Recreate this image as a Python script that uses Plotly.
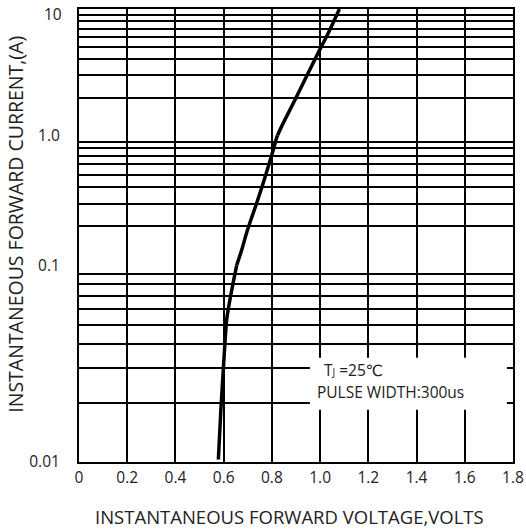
import math
import plotly.graph_objects as go
from plotly.subplots import make_subplots

# ---- data ----
voltage = [0.578, 0.589, 0.599, 0.607, 0.613, 0.633, 0.654, 0.675, 0.699,
           0.737, 0.764, 0.806, 0.823, 0.896, 0.947, 0.988, 1.034, 1.08]
current = [0.0103, 0.019, 0.0303, 0.0435, 0.0536, 0.0743, 0.1, 0.132, 0.188,
           0.303, 0.432, 0.78, 1.0, 1.92, 3.03, 4.36, 6.47, 10.0]

x_ticks = [0, 0.2, 0.4, 0.6, 0.8, 1.0, 1.2, 1.4, 1.6, 1.8]
x_tick_text = ["0", "0.2", "0.4", "0.6", "0.8", "1.0", "1.2", "1.4", "1.6", "1.8"]
decades = [(1, 10), (0.1, 1), (0.01, 0.1)]  # top to bottom
decade_labels = {1: "1.0", 0.1: "0.1", 0.01: "0.01"}
top_label = "10"

x_title = "INSTANTANEOUS FORWARD VOLTAGE,VOLTS"
y_title = "INSTANTANEOUS FORWARD CURRENT,(A)"
note1 = "T<span style='font-size:10px'>J</span> =25℃"
note2 = "PULSE WIDTH:300us"

FONT = "Open Sans, DejaVu Sans, sans-serif"
TXT = "#222222"

fig = make_subplots(rows=3, cols=1, shared_xaxes=True, vertical_spacing=0,
                    row_heights=[0.2797, 0.2863, 0.434])

n = len(current)
for r, (lo, hi) in enumerate(decades, start=1):
    idx = [i for i, c in enumerate(current) if lo - 1e-9 <= c <= hi + 1e-9]
    # include one neighbouring point on each side so the spline stays smooth across panels
    i0, i1 = max(idx[0] - 1, 0), min(idx[-1] + 1, n - 1)
    fig.add_trace(go.Scatter(x=voltage[i0:i1 + 1], y=current[i0:i1 + 1], mode="lines",
                             line=dict(color="black", width=3.5, shape="spline", smoothing=1.0),
                             showlegend=False, hoverinfo="skip"), row=r, col=1)
    vals = [lo * k for k in range(1, 11)]
    texts = []
    for v in vals:
        lab = ""
        for key, t in decade_labels.items():
            if abs(v - key) < 1e-9:
                lab = t
        if r > 1 and abs(v - hi) < 1e-9:
            lab = ""
        texts.append(lab)
    fig.update_yaxes(type="log", range=[math.log10(lo), math.log10(hi)],
                     tickvals=vals, ticktext=texts, showgrid=True, gridcolor="black", gridwidth=2,
                     showline=True, linecolor="black", linewidth=2, mirror=True,
                     ticks="", ticklabelstandoff=14, zeroline=False, ticklabeloverflow="allow",
                     automargin=False,
                     tickfont=dict(family=FONT, size=15.5, color=TXT), row=r, col=1)
    fig.update_xaxes(range=[0, 1.8], tickvals=x_ticks, ticktext=x_tick_text,
                     showgrid=True, gridcolor="black", gridwidth=2,
                     showline=(r != 2), side=("top" if r == 1 else "bottom"),
                     linecolor="black", linewidth=2, mirror=False,
                     ticks="", zeroline=False, showticklabels=(r == 3), ticklabeloverflow="allow",
                     automargin=False,
                     tickfont=dict(family=FONT, size=15.5, color=TXT), row=r, col=1)

# top "10" label, set slightly below the frame so it is not clipped
fig.add_annotation(x=-0.035, y=0.9896, xref="paper", yref="paper", text=top_label, showarrow=False,
                   xanchor="right", yanchor="middle", font=dict(family=FONT, size=15.5, color=TXT))

# white box behind the note
fig.add_shape(type="rect", xref="paper", yref="paper", x0=0.532, x1=0.986, y0=0.1155, y1=0.230,
              fillcolor="white", line=dict(width=0), layer="above")

fig.add_annotation(x=0.5599, y=0.2038, xref="paper", yref="paper", text=note1, showarrow=False,
                   xanchor="left", yanchor="middle", font=dict(family=FONT, size=15.5, color=TXT))
fig.add_annotation(x=0.5438, y=0.1554, xref="paper", yref="paper", text=note2, showarrow=False,
                   xanchor="left", yanchor="middle", font=dict(family=FONT, size=15.5, color=TXT))

fig.add_annotation(x=0.484, y=-0.1208, xref="paper", yref="paper", text=x_title, showarrow=False,
                   xanchor="center", yanchor="middle", font=dict(family=FONT, size=18.5, color=TXT))
fig.add_annotation(x=-0.145, y=0.524, xref="paper", yref="paper", text=y_title, showarrow=False,
                   textangle=-90, xanchor="center", yanchor="middle",
                   font=dict(family=FONT, size=19.5, color=TXT))

fig.update_layout(width=526, height=530, margin=dict(l=79, r=13, t=9, b=68, autoexpand=False),
                  paper_bgcolor="white", plot_bgcolor="white", showlegend=False)

fig.write_html("out.html", config={"displayModeBar": False},
               post_script="document.body.style.margin='0';")
